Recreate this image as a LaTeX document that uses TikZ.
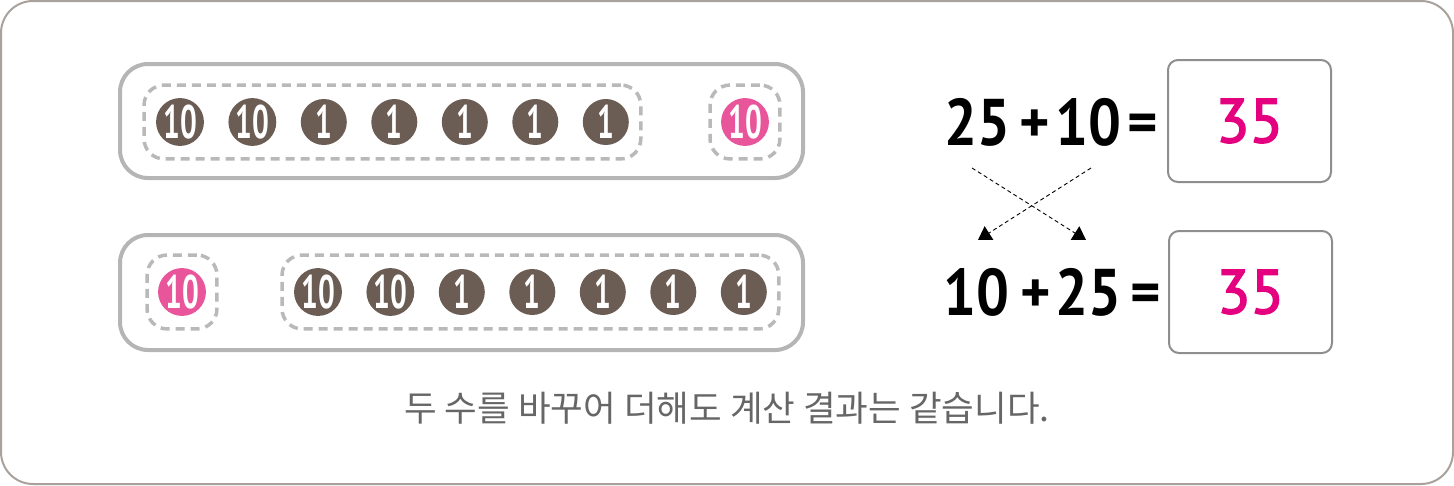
\documentclass[tikz,border=0pt]{standalone}
\usepackage{fontspec}
\setmainfont{PT Sans}
\newfontfamily\krfont{Noto Sans CJK KR}
\newfontfamily\ansfont{PT Sans}[FakeBold=2.5]
\usepackage{graphicx}
\usetikzlibrary{arrows.meta,positioning,fit}
\definecolor{CoinBrown}{HTML}{6B5D54}
\definecolor{CoinPink}{HTML}{E8559B}
\definecolor{AnswerPink}{HTML}{E4007F}
\definecolor{FrameLine}{HTML}{A9A19C}
\definecolor{RowLine}{HTML}{B5B5B5}
\definecolor{GroupLine}{HTML}{B9B9B9}
\definecolor{BoxLine}{HTML}{8E8E8E}
\definecolor{NoteGray}{HTML}{666666}
\newcommand{\coinnum}[1]{\scalebox{0.63}[1]{\fontsize{47}{47}\selectfont\bfseries #1}}
\newcommand{\eqnum}[1]{\scalebox{0.88}[1]{#1}}

\begin{document}
\begin{tikzpicture}[
    x=1pt, y=-1pt,
    node distance=24.5pt,
    coin/.style={circle, fill=CoinBrown, text=white, minimum size=46pt,
      inner sep=0pt, outer sep=0pt},
    pinkcoin/.style={coin, fill=CoinPink},
    group/.style={draw=GroupLine, line width=3.5pt, dash pattern=on 9pt off 6pt,
      rounded corners=20pt, inner xsep=12pt, inner ysep=13pt},
    rowbox/.style={draw=RowLine, line width=4pt, rounded corners=28pt},
    eq/.style={font=\fontsize{66}{66}\selectfont\bfseries, inner sep=0pt, anchor=base},
    eqop/.style={eq, font=\fontsize{58}{58}\selectfont\bfseries},
    ans/.style={draw=BoxLine, line width=2pt, rounded corners=10pt,
      minimum width=163pt, minimum height=122pt, text=AnswerPink,
      font=\ansfont\fontsize{62}{62}\selectfont},
    crossarr/.style={-{Triangle[length=13pt,width=16pt]}, line width=0.9pt,
      dash pattern=on 4pt off 3pt}
  ]
    \useasboundingbox (0,0) rectangle (1454,485);
    \draw[FrameLine, line width=2pt, rounded corners=32pt] (1,1) rectangle (1453,484);

    % first row: 25 + 10
    \draw[rowbox] (120,64) rectangle (803,178);
    \node[coin] (t1) at (180,122) {\coinnum{10}};
    \node[coin, right=of t1] (t2) {\coinnum{10}};
    \node[coin, right=of t2] (t3) {\coinnum{1}};
    \node[coin, right=of t3] (t4) {\coinnum{1}};
    \node[coin, right=of t4] (t5) {\coinnum{1}};
    \node[coin, right=of t5] (t6) {\coinnum{1}};
    \node[coin, right=of t6] (t7) {\coinnum{1}};
    \node[pinkcoin] (tp) at (745,122) {\coinnum{10}};
    \node[group, fit=(t1)(t7)] (tgroup) {};
    \node[group, inner xsep=11pt, fit=(tp)] (tpgroup) {};

    % second row: 10 + 25
    \draw[rowbox] (120,235) rectangle (803,350);
    \node[pinkcoin] (bp) at (182,292) {\coinnum{10}};
    \node[coin] (b1) at (318,292) {\coinnum{10}};
    \node[coin, right=of b1] (b2) {\coinnum{10}};
    \node[coin, right=of b2] (b3) {\coinnum{1}};
    \node[coin, right=of b3] (b4) {\coinnum{1}};
    \node[coin, right=of b4] (b5) {\coinnum{1}};
    \node[coin, right=of b5] (b6) {\coinnum{1}};
    \node[coin, right=of b6] (b7) {\coinnum{1}};
    \node[group, inner xsep=11pt, fit=(bp)] (bpgroup) {};
    \node[group, fit=(b1)(b7)] (bgroup) {};

    % equations
    \node[eq] (top25) at (977,145) {\eqnum{25}};
    \node[eqop] (topplus) at (1035,142) {+};
    \node[eq] (top10) at (1088,145) {\eqnum{10}};
    \node[eqop] (topeq) at (1143,142) {=};
    \node[ans] (ans1) at (1249.5,121) {35};
    \node[eq] (bot10) at (976,315) {\eqnum{10}};
    \node[eqop] (botplus) at (1036,312) {+};
    \node[eq] (bot25) at (1088,315) {\eqnum{25}};
    \node[eqop] (boteq) at (1146,312) {=};
    \node[ans] (ans2) at (1250.5,292) {35};

    \coordinate (from25) at (972,168);
    \coordinate (to25) at (1086,240);
    \coordinate (from10) at (1091,168);
    \coordinate (to10) at (978,240);
    \draw[crossarr] (from25) -- (to25);
    \draw[crossarr] (from10) -- (to10);

    \node[text=NoteGray, font=\krfont\fontsize{35.5}{35.5}\selectfont] (note) at (727,408)
      {두 수를 바꾸어 더해도 계산 결과는 같습니다.};
\end{tikzpicture}
\end{document}
